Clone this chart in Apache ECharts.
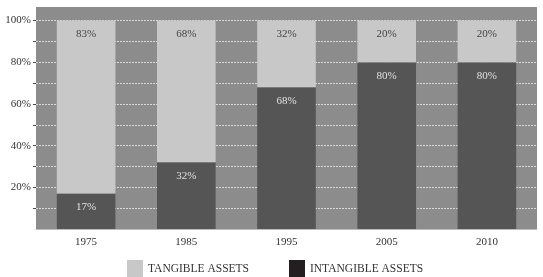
<!DOCTYPE html>
<html>
<head>
<meta charset="utf-8">
<script src="https://cdn.jsdelivr.net/npm/echarts@6/dist/echarts.min.js"></script>
<style>html,body{margin:0;padding:0;background:#fff}#c{width:543px;height:277px}</style>
</head>
<body>
<div id="c"></div>
<script>
var categories = ['1975', '1985', '1995', '2005', '2010'];
var intangible = [17, 32, 68, 80, 80];
var tangible = [83, 68, 32, 20, 20];
var yTickLabels = [20, 40, 60, 80, 100];
var yTicks = [10, 20, 30, 40, 50, 60, 70, 80, 90, 100];

var font = '"Liberation Serif", "DejaVu Serif", serif';
var chart = echarts.init(document.getElementById('c'));
chart.setOption({
  animation: false,
  textStyle: { fontFamily: font },
  grid: { left: 36, right: 6, top: 7, bottom: 48, show: true, backgroundColor: '#8c8c8c', borderWidth: 0 },
  legend: {
    top: 260, left: 127, padding: 0,
    itemWidth: 16, itemHeight: 17, itemGap: 40,
    icon: 'rect',
    textStyle: { fontFamily: font, fontSize: 11.5, color: '#333' },
    data: [
      { name: 'TANGIBLE ASSETS', itemStyle: { color: '#c8c8c8' } },
      { name: 'INTANGIBLE ASSETS', itemStyle: { color: '#231f20' } }
    ]
  },
  xAxis: {
    type: 'category', data: categories,
    axisLine: { show: true, lineStyle: { color: '#bdbdbd', width: 1 } },
    axisTick: { show: false },
    axisLabel: { fontFamily: font, fontSize: 11, color: '#333', margin: 8 }
  },
  yAxis: {
    type: 'value', min: 0, max: 106.5, interval: 10,
    axisLine: { show: false },
    axisTick: { show: true, length: 3, lineStyle: { color: '#444' }, customValues: yTicks },
    axisLabel: { fontFamily: font, fontSize: 11, color: '#333', margin: 5, customValues: yTickLabels,
      formatter: function (v) { return v + '%'; } },
    splitLine: { show: true, lineStyle: { color: '#d8d8d8', type: [2, 1], width: 1 } }
  },
  series: [
    {
      name: 'INTANGIBLE ASSETS', type: 'bar', stack: 'a', data: intangible,
      barWidth: '58.5%',
      itemStyle: { color: '#555555' },
      label: { show: true, position: 'insideTop', distance: 8, fontFamily: font, fontSize: 11, color: '#e0e0e0',
        formatter: function (p) { return p.value + '%'; } }
    },
    {
      name: 'TANGIBLE ASSETS', type: 'bar', stack: 'a', data: tangible,
      barWidth: '58.5%',
      itemStyle: { color: '#c8c8c8' },
      label: { show: true, position: 'insideTop', distance: 8, fontFamily: font, fontSize: 11, color: '#444',
        formatter: function (p) { return p.value + '%'; } }
    }
  ]
});
</script>
</body>
</html>
